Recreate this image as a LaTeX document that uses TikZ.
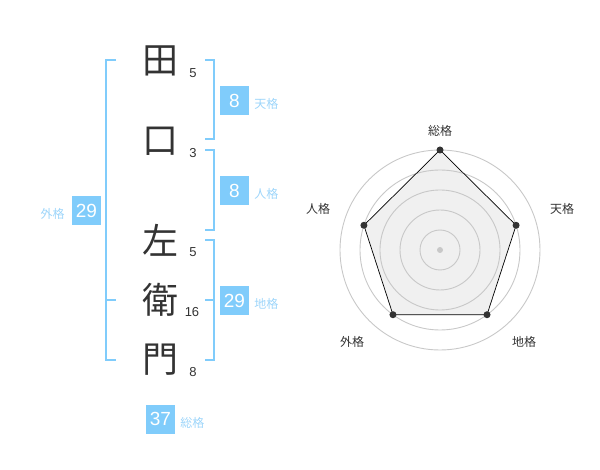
\documentclass[tikz,border=0pt]{standalone}
\usepackage{fontspec}
\setmainfont{Liberation Sans}
\newfontfamily\jpfont{Noto Sans CJK JP}
\usetikzlibrary{positioning}
\definecolor{kakublue}{HTML}{80CCFB}
\definecolor{labelblue}{HTML}{9DD5FA}
\definecolor{inkgray}{HTML}{333333}
\definecolor{ringgray}{HTML}{C8C8C8}
\definecolor{areagray}{HTML}{F0F0F0}

\begin{document}
\begin{tikzpicture}[x=1pt,y=-1pt,
    kanji/.style={inner sep=0pt,text=inkgray,font=\jpfont\fontsize{36}{36}\selectfont},
    stroke count/.style={inner sep=0pt,text=inkgray,font=\fontsize{13}{13}\selectfont},
    kaku box/.style={fill=kakublue,text=white,minimum size=29pt,inner sep=0pt,font=\fontsize{19}{19}\selectfont},
    kaku label/.style={inner sep=0pt,text=labelblue,yshift=-3.5pt,font=\jpfont\fontsize{12}{12}\selectfont},
    bracket/.style={draw=kakublue,line width=2pt},
    axis label/.style={inner sep=0pt,text=inkgray,font=\jpfont\fontsize{12}{12}\selectfont},
    ring/.style={draw=ringgray,line width=0.9pt},
    value dot/.style={circle,fill=inkgray,inner sep=0pt,minimum size=7pt}]

            \useasboundingbox (0,0) rectangle (600,470);

            % name, one character per node
            \node[kanji] (c1) at (160.5,61) {田};
            \node[kanji] (c2) at (160.5,141.5) {口};
            \node[kanji] (c3) at (160.5,240) {左};
            \node[kanji] (c4) at (160.5,300) {衛};
            \node[kanji] (c5) at (160.5,360) {門};

            \node[stroke count] (s1) at (193,73) {5};
            \node[stroke count] (s2) at (193,153) {3};
            \node[stroke count] (s3) at (193,252) {5};
            \node[stroke count] (s4) at (192,312) {16};
            \node[stroke count] (s5) at (193,372) {8};

            % brackets
            \draw[bracket] (205,60) -- (214,60) -- (214,139) -- (205,139);
            \draw[bracket] (205,150) -- (214,150) -- (214,230) -- (205,230);
            \draw[bracket] (205,240) -- (214,240) -- (214,360) -- (205,360);
            \draw[bracket] (205,300) -- (214,300);
            \draw[bracket] (116,60) -- (106,60) -- (106,360) -- (116,360);
            \draw[bracket] (106,300) -- (116,300);

            % results
            \node[kaku box] (ten) at (234.5,100.5) {8};
            \node[kaku label, right=5pt of ten] (tenl) {天格};
            \node[kaku box] (jin) at (234.5,190.5) {8};
            \node[kaku label, right=5pt of jin] (jinl) {人格};
            \node[kaku box] (chi) at (234.5,300.5) {29};
            \node[kaku label, right=5pt of chi] (chil) {地格};
            \node[kaku box] (gai) at (86.5,210.5) {29};
            \node[kaku label, left=7pt of gai] (gail) {外格};
            \node[kaku box] (so) at (160.5,419) {37};
            \node[kaku label, right=5pt of so] (sol) {総格};

            % radar chart
            \begin{scope}[shift={(440,250)},y=1pt]
                \coordinate (vso) at (90:100);
                \coordinate (vten) at (18:80);
                \coordinate (vchi) at (-54:80);
                \coordinate (vgai) at (-126:80);
                \coordinate (vjin) at (162:80);
                \fill[areagray] (vso) -- (vten) -- (vchi) -- (vgai) -- (vjin) -- cycle;
                \foreach \r in {20,40,60,80,100}
                    \draw[ring] (0,0) circle (\r);
                \draw[black, line width=0.7pt] (vso) -- (vten) -- (vchi) -- (vgai) -- (vjin) -- cycle;
                \node[circle,fill=ringgray,inner sep=0pt,minimum size=6pt] (mid) at (0,0) {};
                \node[value dot] (dso) at (vso) {};
                \node[value dot] (dten) at (vten) {};
                \node[value dot] (dchi) at (vchi) {};
                \node[value dot] (dgai) at (vgai) {};
                \node[value dot] (djin) at (vjin) {};
            \end{scope}

            \node[axis label] (aso) at (440,131) {総格};
            \node[axis label] (aten) at (562,209) {天格};
            \node[axis label] (achi) at (524,342) {地格};
            \node[axis label] (agai) at (352,342) {外格};
            \node[axis label] (ajin) at (318,209) {人格};

        \end{tikzpicture}
\end{document}
